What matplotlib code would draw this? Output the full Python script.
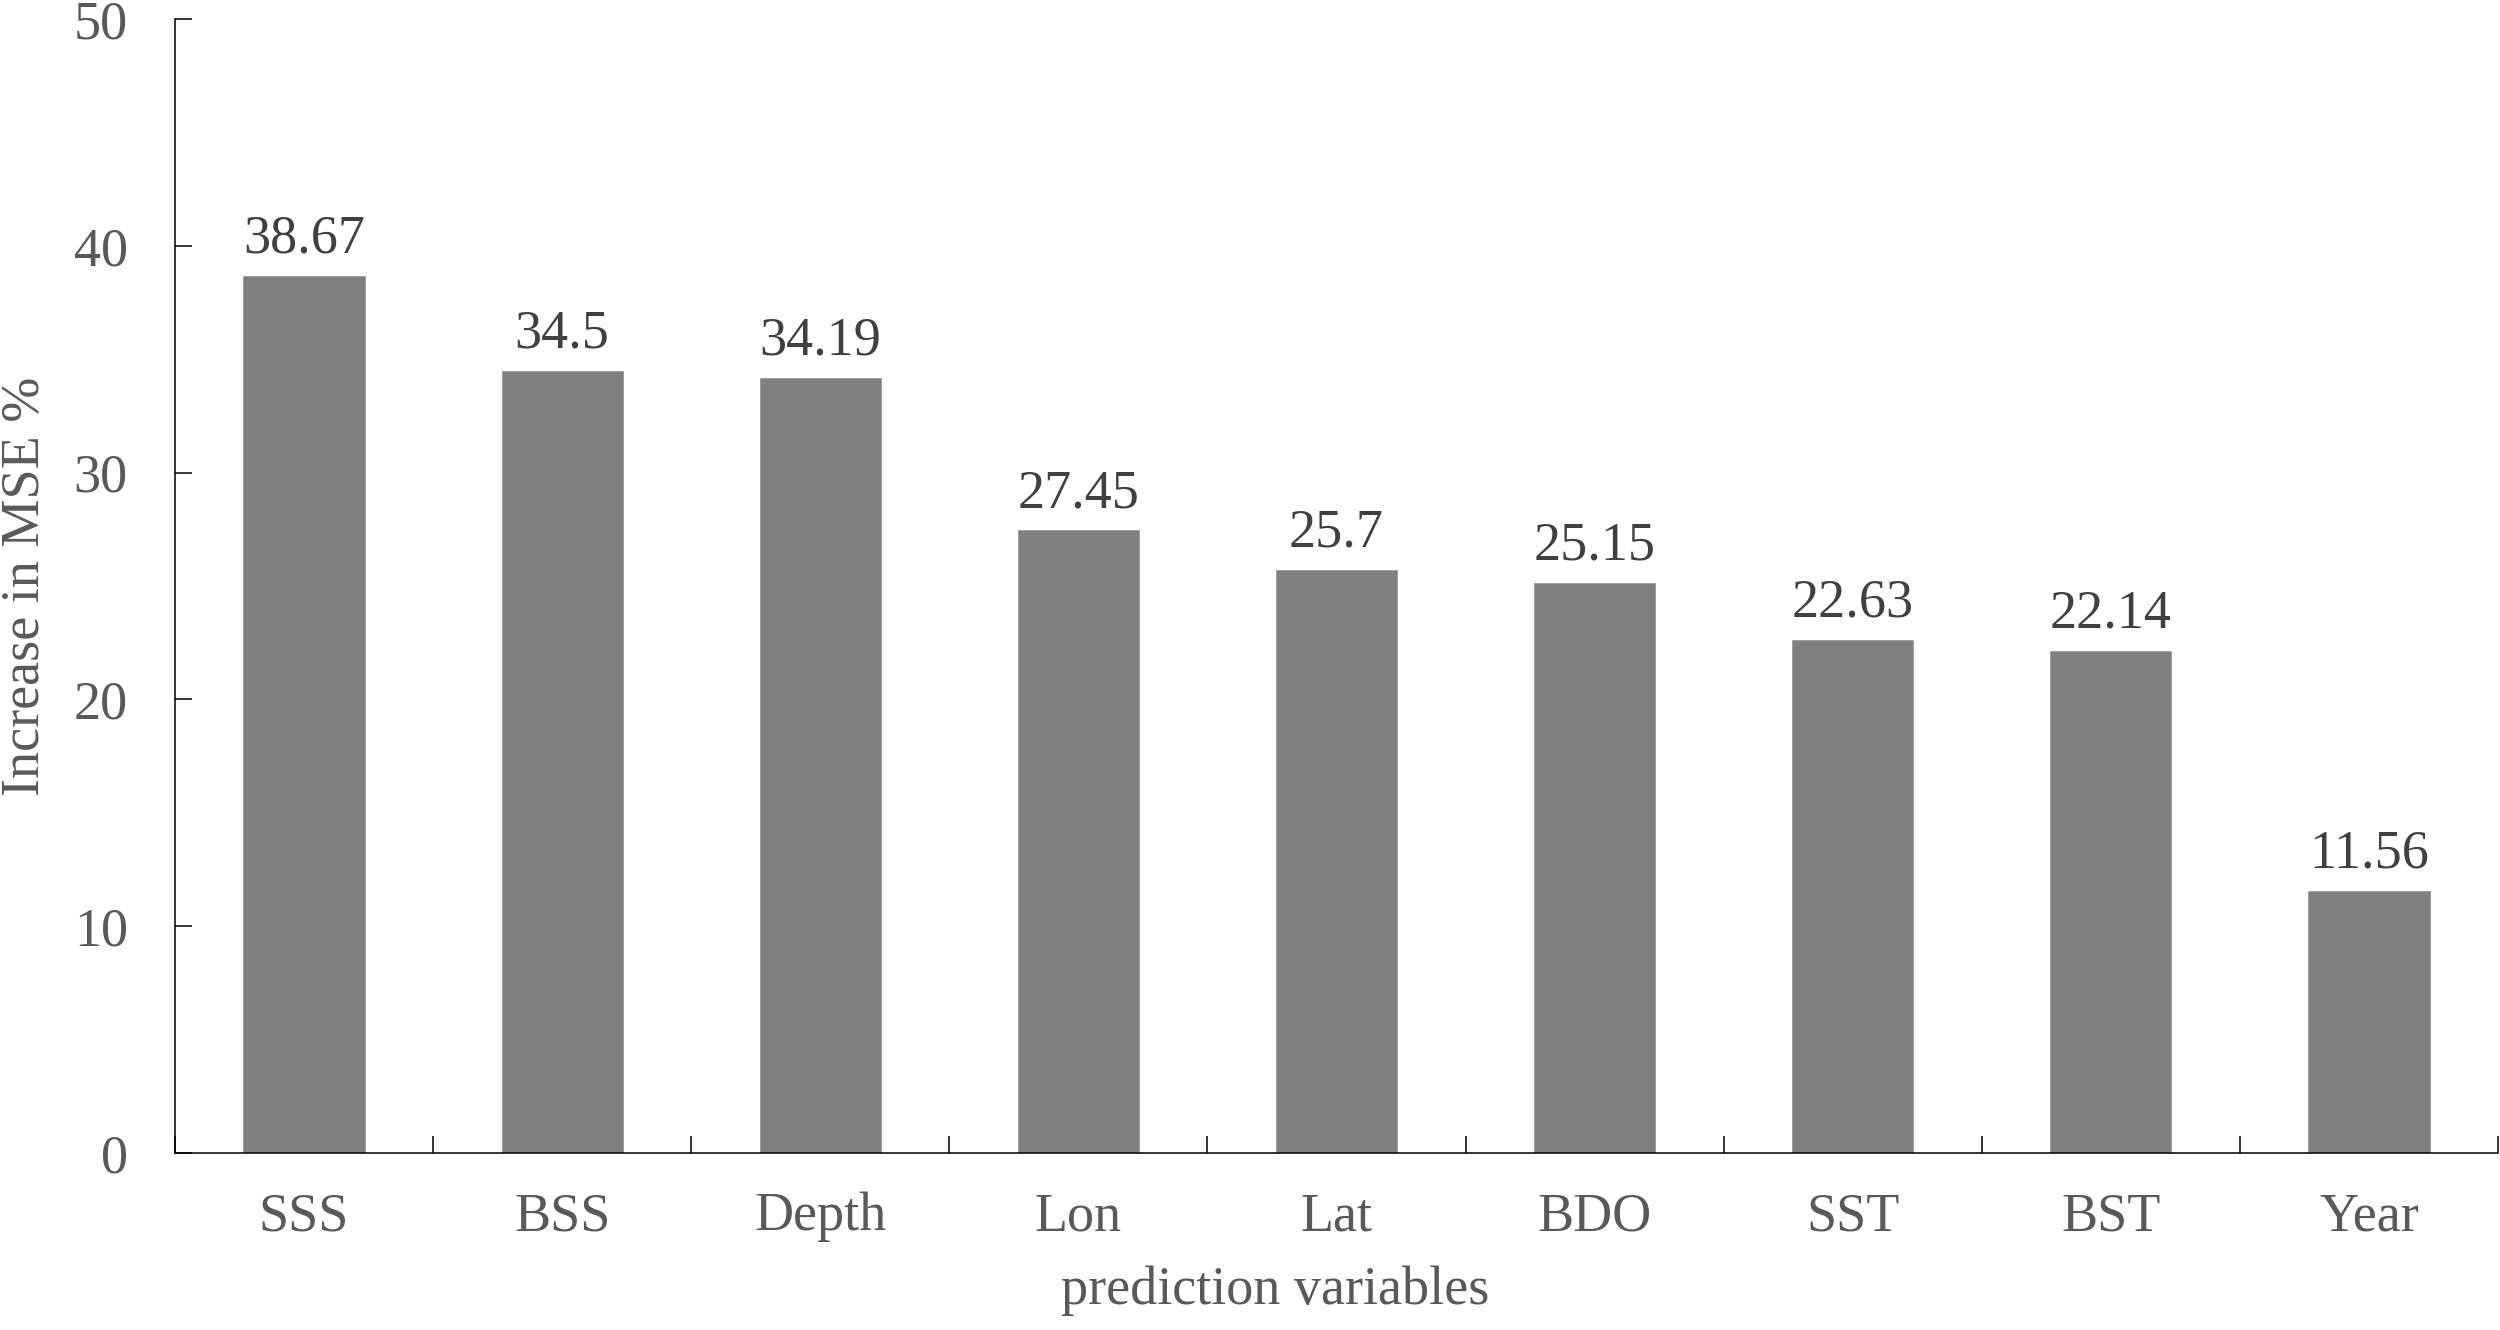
import matplotlib.pyplot as plt
import numpy as np

# data
variables = ['SSS', 'BSS', 'Depth', 'Lon', 'Lat', 'BDO', 'SST', 'BST', 'Year']
mse_increase = [38.67, 34.5, 34.19, 27.45, 25.7, 25.15, 22.63, 22.14, 11.56]
value_labels = ['38.67', '34.5', '34.19', '27.45', '25.7', '25.15', '22.63', '22.14', '11.56']
y_ticks = [0, 10, 20, 30, 40, 50]

plt.rcParams['font.family'] = ['Liberation Serif', 'DejaVu Serif']

fig = plt.figure(figsize=(25, 13.3), dpi=100)
ax = fig.add_axes([175 / 2500, 1 - 1153 / 1330, 2323 / 2500, 1134 / 1330])

x = np.arange(len(variables))
bars = ax.bar(x, mse_increase, width=0.47, color='#808080', edgecolor='#9a9a9a', linewidth=0.6)

for xi, v, lab in zip(x, mse_increase, value_labels):
    ax.text(xi, v + 0.5, lab, ha='center', va='bottom', fontsize=39, color='#404040')

ax.set_xlim(-0.5, len(variables) - 0.5)
ax.set_ylim(0, 50)
ax.set_yticks(y_ticks)
ax.set_xticks(x)
ax.set_xticklabels(variables)
ax.set_xticks(np.arange(len(variables) + 1) - 0.5, minor=True)

ax.tick_params(axis='x', which='major', length=0, pad=28, labelsize=39, labelcolor='#595959')
ax.tick_params(axis='x', which='minor', direction='in', length=12, width=1.1, color='black')
ax.tick_params(axis='y', direction='in', length=12, width=1.1, pad=34, labelsize=39, labelcolor='#595959')

for s in ['top', 'right']:
    ax.spines[s].set_visible(False)
for s in ['left', 'bottom']:
    ax.spines[s].set_linewidth(1.1)
    ax.spines[s].set_color('black')

ax.set_ylabel('Increase in MSE %', fontsize=39, color='#595959')
ax.yaxis.set_label_coords(-0.0534, 0.5)
ax.set_xlabel('prediction variables', fontsize=39, color='#595959')
ax.xaxis.set_label_coords((1275 - 175) / 2323, -0.099)

fig.savefig('out.png', dpi=100)
